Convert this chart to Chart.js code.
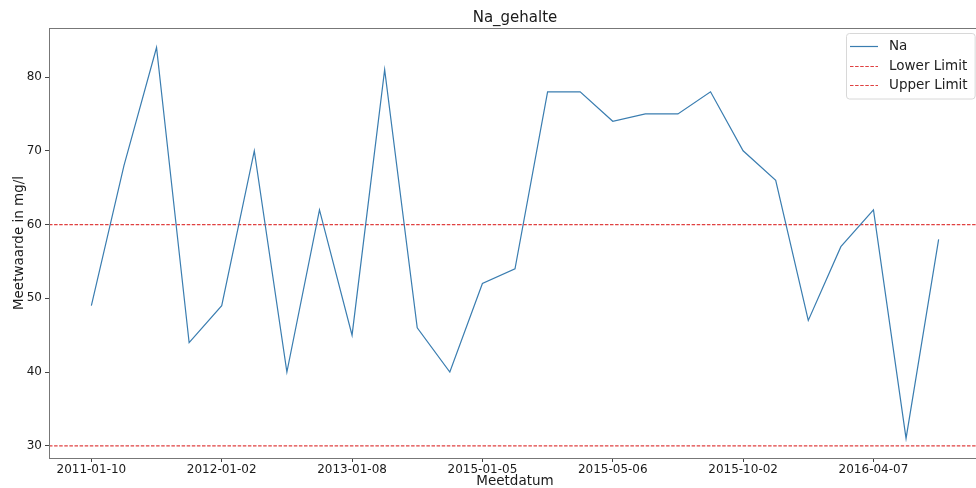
<!DOCTYPE html>
<html>
<head>
<meta charset="utf-8">
<title>Na_gehalte</title>
<script src="https://cdn.jsdelivr.net/npm/chart.js@4.4.1/dist/chart.umd.min.js"></script>
<style>
  html, body { margin: 0; padding: 0; background: #fff; overflow: hidden; }
  #wrap { width: 990px; height: 488px; position: relative; }
</style>
</head>
<body>
<div id="wrap"><canvas id="chart1"></canvas></div>
<script>
// Na measurements per meetdatum (mg/l)
const naValues = [49, 68, 84, 44, 49, 70, 40, 62, 45, 81, 46, 40, 52, 54, 78, 78, 74, 75, 75, 78, 70, 66, 47, 57, 62, 31, 58];
// only every 4th meetdatum gets a label on the axis
const tickLabels = ['2011-01-10', '2012-01-02', '2013-01-08', '2015-01-05', '2015-05-06', '2015-10-02', '2016-04-07'];
const tickEvery = 4;
const lowerLimit = 30;
const upperLimit = 60;
const yTicks = [30, 40, 50, 60, 70, 80];

// matplotlib-like 5% autoscale margins
const n = naValues.length;
const xMin = -0.05 * (n - 1);
const xMax = (n - 1) * 1.05;
const dMin = Math.min(...naValues), dMax = Math.max(...naValues);
const yMin = dMin - 0.05 * (dMax - dMin);
const yMax = dMax + 0.05 * (dMax - dMin);

const FONT = '"DejaVu Sans", sans-serif';

// axes frame (all four spines)
const frame = {
    id: 'frame',
    afterDatasetsDraw(chart) {
        const { ctx, chartArea: a } = chart;
        ctx.save();
        ctx.strokeStyle = '#777';
        ctx.lineWidth = 1;
        ctx.strokeRect(a.left + 0.5, a.top + 0.5, a.right - a.left, a.bottom - a.top);
        ctx.restore();
    }
};

// legend in upper right corner, matplotlib style
const legendBox = {
    id: 'legendBox',
    afterDraw(chart) {
        const { ctx, chartArea } = chart;
        const items = chart.data.datasets;
        ctx.save();
        ctx.font = '13.5px ' + FONT;
        const textW = Math.max(...items.map(d => ctx.measureText(d.label).width));
        const rowH = 19.5, lineLen = 28;
        const w = 4 + lineLen + 11 + textW + 7;
        const h = items.length * rowH + 7;
        const x = Math.round(chartArea.right - 6 - w), y = Math.round(chartArea.top + 5);
        ctx.fillStyle = 'rgba(255,255,255,0.8)';
        ctx.strokeStyle = '#d8d8d8';
        ctx.lineWidth = 1;
        ctx.beginPath();
        ctx.roundRect(x + 0.5, y + 0.5, w, h, 3);
        ctx.fill();
        ctx.stroke();
        items.forEach((d, i) => {
            const cy = Math.round(y + 13 + i * rowH) + 0.5;
            ctx.strokeStyle = d.borderColor;
            ctx.lineWidth = d.borderWidth;
            ctx.setLineDash(d.borderDash || []);
            ctx.beginPath();
            ctx.moveTo(x + 4, cy);
            ctx.lineTo(x + 4 + lineLen, cy);
            ctx.stroke();
            ctx.setLineDash([]);
            ctx.fillStyle = '#222';
            ctx.textBaseline = 'middle';
            ctx.fillText(d.label, x + 4 + lineLen + 11, cy);
        });
        ctx.restore();
    }
};

const ctx1 = document.getElementById('chart1').getContext('2d');

var chart1 = new Chart(ctx1, {
    type: 'line',
    data: {
        datasets: [{
                label: 'Na',
                data: naValues.map((v, i) => ({ x: i, y: v })),
                borderColor: '#3a7db0',
                borderWidth: 1.2,
                pointRadius: 0,
                tension: 0,
            },
            {
                label: 'Lower Limit',
                data: [{ x: xMin, y: lowerLimit }, { x: xMax, y: lowerLimit }],
                borderColor: '#e04040',
                borderWidth: 1.2,
                borderDash: [3.5, 1.6],
                pointRadius: 0,
            },
            {
                label: 'Upper Limit',
                data: [{ x: xMin, y: upperLimit }, { x: xMax, y: upperLimit }],
                borderColor: '#e04040',
                borderWidth: 1.2,
                borderDash: [3.5, 1.6],
                pointRadius: 0,
            },
        ],
    },
    options: {
        responsive: true,
        maintainAspectRatio: false,
        animation: false,
        layout: { padding: { left: 0, right: 9, top: 0, bottom: 0 } },
        scales: {
            x: {
                type: 'linear',
                min: xMin,
                max: xMax,
                afterBuildTicks(scale) {
                    scale.ticks = tickLabels.map((_, i) => ({ value: i * tickEvery }));
                },
                afterFit(scale) { scale.height = 30; },
                ticks: {
                    autoSkip: false,
                    maxRotation: 0,
                    padding: 1,
                    color: '#1a1a1a',
                    font: { family: FONT, size: 12 },
                    callback: (v) => tickLabels[v / tickEvery],
                },
                grid: { display: true, drawOnChartArea: false, drawTicks: true, tickLength: 4, color: '#444' },
                border: { display: false },
                title: {
                    display: true,
                    text: 'Meetdatum',
                    color: '#1a1a1a',
                    font: { family: FONT, size: 13.5, lineHeight: 1.0 },
                    padding: { top: 0, bottom: 0 },
                },
            },
            y: {
                min: yMin,
                max: yMax,
                afterBuildTicks(scale) {
                    scale.ticks = yTicks.map(v => ({ value: v }));
                },
                afterFit(scale) { scale.width = 49; },
                ticks: {
                    padding: 3,
                    color: '#1a1a1a',
                    font: { family: FONT, size: 12 },
                },
                grid: { display: true, drawOnChartArea: false, drawTicks: true, tickLength: 4, color: '#444' },
                border: { display: false },
                title: {
                    display: true,
                    text: 'Meetwaarde in mg/l',
                    color: '#1a1a1a',
                    font: { family: FONT, size: 13.5 },
                    padding: { top: 11, bottom: 0 },
                },
            },
        },
        plugins: {
            legend: { display: false },
            tooltip: { enabled: false },
            title: {
                display: true,
                text: 'Na_gehalte',
                fullSize: false,
                color: '#1a1a1a',
                font: { family: FONT, size: 15, weight: 'normal', lineHeight: 1.1 },
                padding: { top: 10, bottom: 1.5 },
            },
        },
    },
    plugins: [frame, legendBox],
});
</script>
</body>
</html>
